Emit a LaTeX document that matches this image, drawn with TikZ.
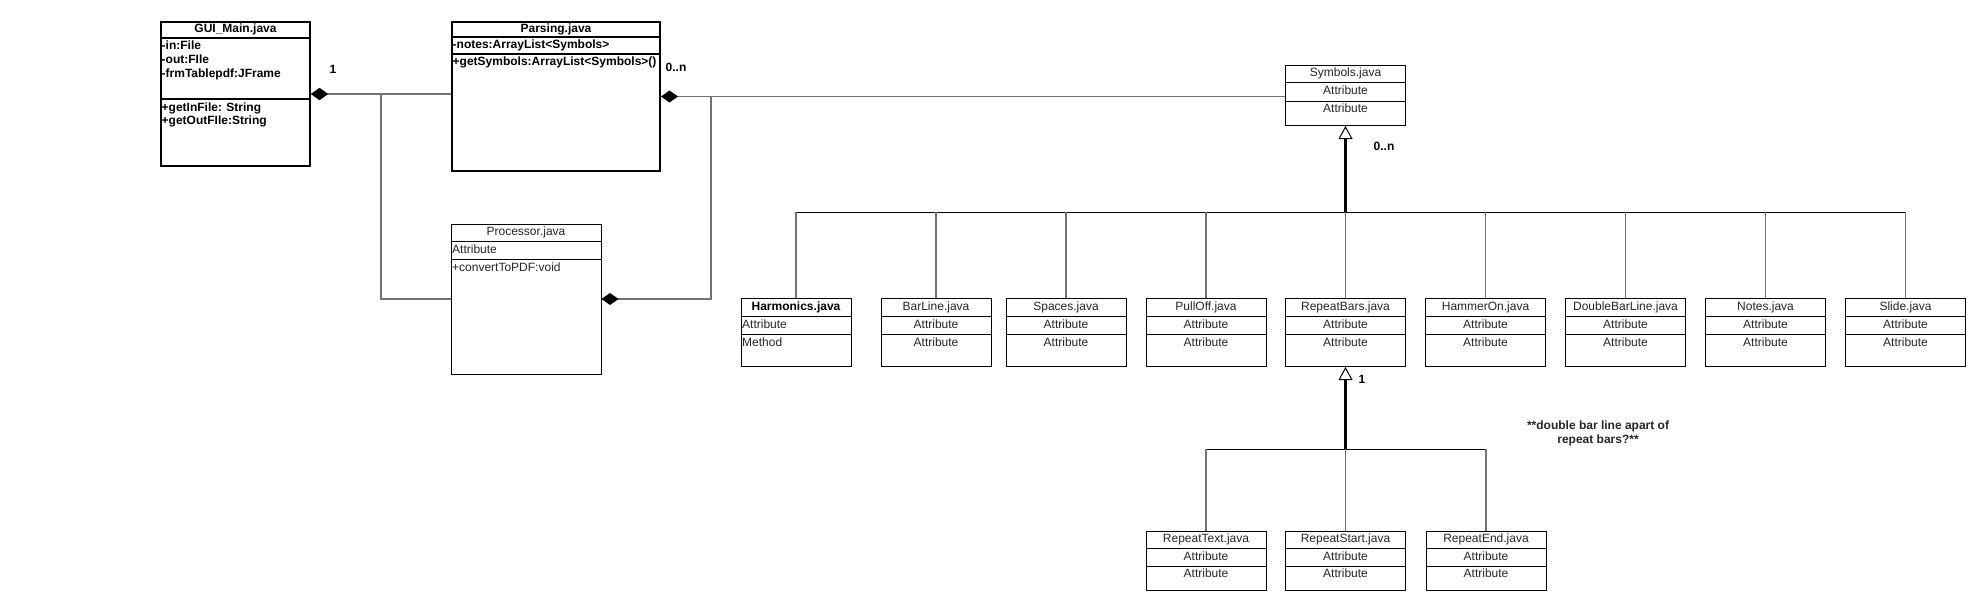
\documentclass[tikz,border=0pt]{standalone}
\usepackage{fontspec}
\setmainfont{Liberation Sans}
\usepackage{tikz}
\usetikzlibrary{arrows.meta}

\tikzset{
  cls/.style     = {draw, line width=1pt, anchor=north west, inner sep=0pt},
  bigcls/.style  = {cls, line width=2pt},
  txt/.style     = {inner sep=0pt, text height=8.5pt, text depth=2.5pt, font=\fontsize{12}{14}\selectfont, text=black!85},
  btxt/.style    = {txt, font=\fontsize{12}{14}\selectfont\bfseries, text=black},
  link/.style    = {draw=black!55, line width=1.5pt},
  bus/.style     = {draw=black, line width=1pt},
  owns/.style    = {link, {Diamond[length=17pt, width=12pt, color=black, fill=black]}-},
  trunk/.style   = {draw=black, line width=2.2pt, -{Triangle[open, fill=white, length=13pt, width=14pt, line width=1pt]}},
  notetxt/.style = {inner sep=0pt, align=center, font=\fontsize{12}{13.5}\selectfont\bfseries, text=black!85}
}

% name, x, y, width, height, row height, title
\newcommand{\javaclass}[7]{%
  \node[cls, minimum width=#4pt, minimum height=#5pt] (#1) at (#2,#3) {};
  \draw[line width=1pt] ([yshift=-#6pt]#1.north west) -- ([yshift=-#6pt]#1.north east);
  \draw[line width=1pt] ([yshift={-2*#6pt}]#1.north west) -- ([yshift={-2*#6pt}]#1.north east);
  \node[txt] (#1-t) at ([yshift={-0.5*#6pt}]#1.north) {#7};
  \node[txt] (#1-a) at ([yshift={-1.5*#6pt}]#1.north) {Attribute};
  \node[txt] (#1-b) at ([yshift={-2.5*#6pt}]#1.north) {Attribute};
}

\begin{document}
\begin{tikzpicture}[x=1pt, y=-1pt]
  \fill[white] (0,0) rectangle (1987,610);
  \useasboundingbox (0,0) rectangle (1987,610);

  % GUI_Main
  \node[bigcls, minimum width=149pt, minimum height=144pt] (gui) at (160,21) {};
  \draw[line width=2pt] ([yshift=-17.5pt]gui.north west) -- ([yshift=-17.5pt]gui.north east);
  \draw[line width=2pt] ([yshift=-77.5pt]gui.north west) -- ([yshift=-77.5pt]gui.north east);
  \node[btxt] (gui-t) at ([yshift=-9pt]gui.north) {GUI\_Main.java};
  \node[btxt, anchor=west] (gui-a1) at ([xshift=1.5pt, yshift=-26pt]gui.north west) {-in:File};
  \node[btxt, anchor=west] (gui-a2) at ([xshift=1.5pt, yshift=-39.7pt]gui.north west) {-out:FIle};
  \node[btxt, anchor=west] (gui-a3) at ([xshift=1.5pt, yshift=-53.4pt]gui.north west) {-frmTablepdf:JFrame};
  \node[btxt, anchor=west] (gui-m1) at ([xshift=1.5pt, yshift=-87pt]gui.north west) {+getInFile: String};
  \node[btxt, anchor=west] (gui-m2) at ([xshift=1.5pt, yshift=-100pt]gui.north west) {+getOutFIle:String};

  % Parsing
  \node[bigcls, minimum width=208pt, minimum height=149pt] (pars) at (451,21) {};
  \draw[line width=2pt] ([yshift=-16.5pt]pars.north west) -- ([yshift=-16.5pt]pars.north east);
  \draw[line width=2pt] ([yshift=-33.5pt]pars.north west) -- ([yshift=-33.5pt]pars.north east);
  \node[btxt] (pars-t) at ([yshift=-8.5pt]pars.north) {Parsing.java};
  \node[btxt, anchor=west] (pars-a) at ([xshift=1.5pt, yshift=-25pt]pars.north west) {-notes:ArrayList<Symbols>};
  \node[btxt, anchor=west] (pars-m) at ([xshift=1.5pt, yshift=-42pt]pars.north west) {+getSymbols:ArrayList<Symbols>()};

  % Processor
  \node[cls, minimum width=150pt, minimum height=150pt] (proc) at (450.5,223.5) {};
  \draw[line width=1pt] ([yshift=-18pt]proc.north west) -- ([yshift=-18pt]proc.north east);
  \draw[line width=1pt] ([yshift=-36pt]proc.north west) -- ([yshift=-36pt]proc.north east);
  \node[txt] (proc-t) at ([yshift=-9pt]proc.north) {Processor.java};
  \node[txt, anchor=west] (proc-a) at ([xshift=1.5pt, yshift=-27pt]proc.north west) {Attribute};
  \node[txt, anchor=west] (proc-m) at ([xshift=1.5pt, yshift=-45pt]proc.north west) {+convertToPDF:void};

  % Symbols and its subclasses
  \javaclass{sym}{1285}{65}{120}{60}{18}{Symbols.java}
  \node[cls, minimum width=110pt, minimum height=68pt] (harm) at (740.5,298) {};
  \draw[line width=1pt] ([yshift=-18pt]harm.north west) -- ([yshift=-18pt]harm.north east);
  \draw[line width=1pt] ([yshift=-36pt]harm.north west) -- ([yshift=-36pt]harm.north east);
  \node[btxt] (harm-t) at ([yshift=-9pt]harm.north) {Harmonics.java};
  \node[txt, anchor=west] (harm-a) at ([xshift=1.5pt, yshift=-27pt]harm.north west) {Attribute};
  \node[txt, anchor=west] (harm-m) at ([xshift=1.5pt, yshift=-45pt]harm.north west) {Method};
  \javaclass{barl}{880.5}{298}{110}{68}{18}{BarLine.java}
  \javaclass{spac}{1005.5}{298}{120}{68}{18}{Spaces.java}
  \javaclass{pull}{1145.5}{298}{120}{68}{18}{PullOff.java}
  \javaclass{rbars}{1285}{298}{120}{68}{18}{RepeatBars.java}
  \javaclass{hamm}{1425}{298}{120}{68}{18}{HammerOn.java}
  \javaclass{dbl}{1565}{298}{120}{68}{18}{DoubleBarLine.java}
  \javaclass{notes}{1705}{298}{120}{68}{18}{Notes.java}
  \javaclass{slide}{1845}{298}{120}{68}{18}{Slide.java}

  % RepeatBars subclasses
  \javaclass{rtext}{1145.5}{531}{120}{59}{17.5}{RepeatText.java}
  \javaclass{rstart}{1285}{531}{120}{59}{17.5}{RepeatStart.java}
  \javaclass{rend}{1425.5}{531}{120}{59}{17.5}{RepeatEnd.java}

  % associations
  \draw[owns] (gui.east) -- (gui.east -| pars.west);
  \draw[owns] (gui.east) -- ++(70,0) |- (proc.west);
  \draw[owns] (proc.east) -| ([xshift=50pt]pars.east) -- (pars.east);
  \draw[owns] (pars.east) -- (pars.east -| sym.west);

  % inheritance
  \coordinate (symJ) at ([yshift=-86pt]sym.south);
  \draw[bus] (harm.north |- symJ) -- (slide.north |- symJ);
  \draw[link] (harm.north) -- (harm.north |- symJ);
  \draw[link] (barl.north) -- (barl.north |- symJ);
  \draw[link] (spac.north) -- (spac.north |- symJ);
  \draw[link] (pull.north) -- (pull.north |- symJ);
  \draw[link] (rbars.north) -- (rbars.north |- symJ);
  \draw[link] (hamm.north) -- (hamm.north |- symJ);
  \draw[link] (dbl.north) -- (dbl.north |- symJ);
  \draw[link] (notes.north) -- (notes.north |- symJ);
  \draw[link] (slide.north) -- (slide.north |- symJ);
  \draw[trunk] (symJ) -- (sym.south);

  \coordinate (rbJ) at ([yshift=-82pt]rbars.south);
  \draw[bus] (rtext.north |- rbJ) -- (rend.north |- rbJ);
  \draw[link] (rtext.north) -- (rtext.north |- rbJ);
  \draw[link] (rstart.north) -- (rstart.north |- rbJ);
  \draw[link] (rend.north) -- (rend.north |- rbJ);
  \draw[trunk] (rbJ) -- (rbars.south);

  % multiplicities
  \node[btxt] (m-gui) at (333,71) {1};
  \node[btxt] (m-pars) at (676,69) {0..n};
  \node[btxt] (m-sym) at (1384,147) {0..n};
  \node[btxt] (m-rbars) at (1362,380) {1};

  \node[notetxt] (note) at (1598,433.5) {**double bar line apart of\\repeat bars?**};
\end{tikzpicture}
\end{document}
